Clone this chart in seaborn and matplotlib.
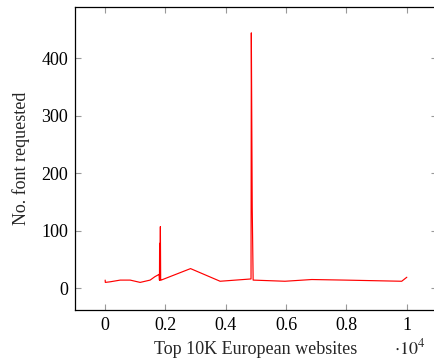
import matplotlib
matplotlib.use("Agg")
import matplotlib.pyplot as plt
import seaborn as sns
import pandas as pd

# data (x = site rank, y = number of fonts requested)
ranks = [0, 5, 160, 500, 830, 1160, 1490, 1650, 1790, 1800, 1805, 1815, 1830, 1840,
         1855, 2830, 3810, 4835, 4845, 4875, 4905, 5960, 6850, 7950, 9830, 10000]
fonts = [14, 10, 11, 14, 14, 10, 14, 20, 24, 14, 78, 14, 107, 14,
         14, 34, 12, 16, 444, 140, 14, 12, 15, 14, 12, 19]
xticks = [0, 2000, 4000, 6000, 8000, 10000]
xticklabels = ["0", "0.2", "0.4", "0.6", "0.8", "1"]
yticks = [0, 100, 200, 300, 400]
yticklabels = ["0", "100", "200", "300", "400"]

sns.set_theme(style="ticks")
plt.rcParams["font.family"] = ["Liberation Serif", "DejaVu Serif"]
plt.rcParams["mathtext.fontset"] = "stix"
FS = 13

df = pd.DataFrame({"rank": ranks, "fonts": fonts})

fig = plt.figure(figsize=(4.35, 3.58), dpi=100)
ax = fig.add_axes([75 / 435, 1 - 310 / 358, (437 - 75) / 435, (310 - 7) / 358])
sns.lineplot(data=df, x="rank", y="fonts", estimator=None, sort=False,
             color="red", linewidth=0.85, ax=ax)

ax.set_xlim(-1000, 11000)
ax.set_ylim(-38, 489)
ax.set_xticks(xticks)
ax.set_xticklabels(xticklabels, fontfamily="Liberation Serif", fontsize=FS)
ax.set_yticks(yticks)
ax.set_yticklabels(yticklabels, fontfamily="Liberation Serif", fontsize=FS)
ax.tick_params(direction="in", length=4, width=0.8, color="#999999",
               top=True, right=True, pad=5, labelcolor="black")
for s in ax.spines.values():
    s.set_visible(True)
    s.set_linewidth(0.9)
    s.set_color("black")
ax.set_xlabel("Top 10K European websites", fontsize=FS, labelpad=5,
              fontfamily="Liberation Serif")
ax.set_ylabel("No. font requested", fontsize=FS, labelpad=8,
              fontfamily="Liberation Serif")
fig.text(410 / 435, 1 - 348 / 358, r"$\cdot 10^4$", fontsize=FS,
         ha="center", va="center")

fig.savefig("out.png", dpi=100)
